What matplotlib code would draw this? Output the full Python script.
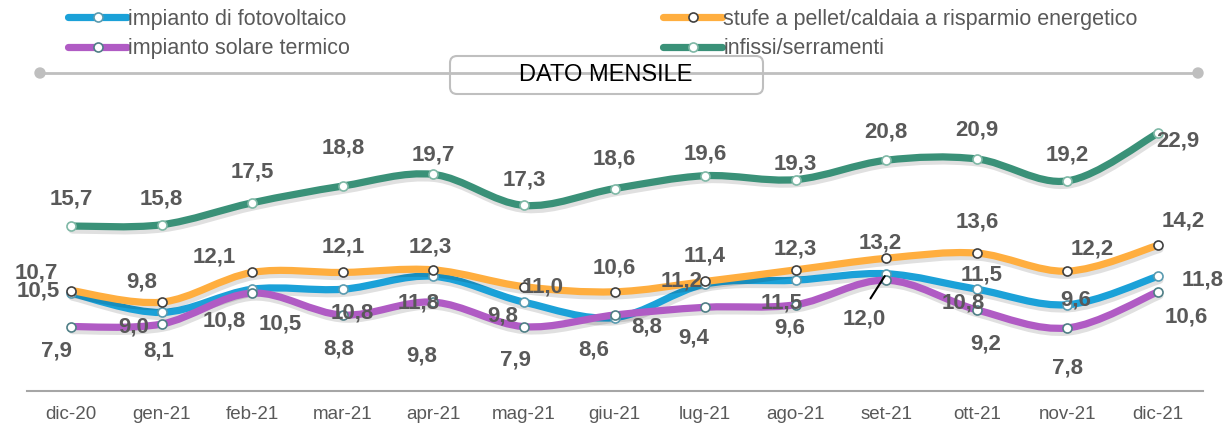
import numpy as np
import matplotlib
matplotlib.use("Agg")
import matplotlib.pyplot as plt
from matplotlib.path import Path
from matplotlib.patches import PathPatch, FancyBboxPatch, Circle
from matplotlib.lines import Line2D
import matplotlib.patheffects as pe

plt.rcParams["font.family"] = ["Liberation Sans", "DejaVu Sans"]

# data
months = ["dic-20", "gen-21", "feb-21", "mar-21", "apr-21", "mag-21", "giu-21",
          "lug-21", "ago-21", "set-21", "ott-21", "nov-21", "dic-21"]
fotovoltaico = [10.5, 9.0, 10.8, 10.8, 11.8, 9.8, 8.6, 11.2, 11.5, 12.0, 10.8, 9.6, 11.8]
stufe = [10.7, 9.8, 12.1, 12.1, 12.3, 11.0, 10.6, 11.4, 12.3, 13.2, 13.6, 12.2, 14.2]
solare = [7.9, 8.1, 10.5, 8.8, 9.8, 7.9, 8.8, 9.4, 9.6, 11.5, 9.2, 7.8, 10.6]
infissi = [15.7, 15.8, 17.5, 18.8, 19.7, 17.3, 18.6, 19.6, 19.3, 20.8, 20.9, 19.2, 22.9]

names = ["impianto di fotovoltaico", "stufe a pellet/caldaia a risparmio energetico",
         "impianto solare termico", "infissi/serramenti"]
colors = ["#1BA1D8", "#FFAE3F", "#B05BC4", "#3A9178"]
edges = ["#5A9BB0", "#404040", "#4F7F86", "#7FB8A6"]

# label offsets in pixels (dx, dy down)
off_blue = [(-33, -2), (-28, 15), (-28, 32), (9, 24), (-15, 27), (-21, 14), (-21, 32),
            (-23, -3), (-14, 23), (-22, 45), (-14, 14), (8, -5), (45, 4)]
off_orange = [(-35, -18), (-20, -20), (-38, -15), (0, -25), (-3, -23), (19, 0), (0, -24),
              (0, -25), (0, -21), (-6, -15), (0, -31), (25, -22), (25, -24)]
off_purple = [(-15, 24), (-3, 27), (28, 31), (-4, 34), (-12, 54), (-8, 33), (32, 12),
              (-11, 31), (-6, 23), (95, -5), (9, 34), (0, 40), (28, 25)]
off_green = [(0, -27), (0, -26), (0, -31), (0, -38), (0, -19), (0, -25), (0, -30),
             (0, -22), (0, -16), (0, -28), (0, -29), (0, -26), (20, 8)]


def smooth_path(xs, ys):
    # excel-like smoothed line: cubic bezier through the points
    pts = np.column_stack([xs, ys]).astype(float)
    n = len(pts)
    verts = [pts[0]]
    codes = [Path.MOVETO]
    for i in range(n - 1):
        p0 = pts[max(i - 1, 0)]
        p1 = pts[i]
        p2 = pts[i + 1]
        p3 = pts[min(i + 2, n - 1)]
        c1 = p1 + (p2 - p0) / 6.0
        c2 = p2 - (p3 - p1) / 6.0
        verts += [c1, c2, p2]
        codes += [Path.CURVE4] * 3
    return Path(verts, codes)


W, H = 1227, 423
fig = plt.figure(figsize=(W / 100, H / 100), dpi=100)
ax = fig.add_axes([27 / W, (H - 391) / H, 1176 / W, (391 - 100) / H])
ax.set_xlim(-0.486, 12.497)
ax.set_ylim(2.91, 25.47)

x = np.arange(len(months))
series = [fotovoltaico, stufe, solare, infissi]
offsets = [off_blue, off_orange, off_purple, off_green]
order = [0, 2, 1, 3]
for k in order:
    vals = series[k]
    patch = PathPatch(smooth_path(x, vals), facecolor="none", edgecolor=colors[k],
                      lw=5.2, capstyle="round", joinstyle="round", zorder=2 + k,
                      path_effects=[pe.SimpleLineShadow(offset=(1, -2.5), shadow_color="black",
                                                        alpha=0.12, linewidth=6), pe.Normal()])
    ax.add_patch(patch)
    ax.plot(x, vals, ls="none", marker="o", ms=6.5, mfc="white", mec=edges[k],
            mew=1.2, zorder=10 + k)
    for i, v in enumerate(vals):
        dx, dy = offsets[k][i]
        lbl = f"{v:.1f}".replace(".", ",")
        arrow = None
        if k == 0 and i == 9:
            arrow = dict(arrowstyle="-", color="black", lw=1.5,
                         relpos=(0.5, 1.0), shrinkA=6, shrinkB=2)
        ax.annotate(lbl, xy=(i, v), xytext=(dx, -dy), textcoords="offset pixels",
                    ha="center", va="center", fontsize=16, fontweight="bold", color="#595959",
                    zorder=20, arrowprops=arrow)

ax.set_xticks(x)
ax.set_xticklabels(months, fontsize=13.5, color="#595959")
ax.tick_params(axis="x", length=0, pad=11)
ax.set_yticks([])
for s in ["top", "left", "right"]:
    ax.spines[s].set_visible(False)
ax.spines["bottom"].set_color("#A6A6A6")
ax.spines["bottom"].set_linewidth(1.5)
ax.patch.set_alpha(0)

# header line and title box
tr = fig.dpi_scale_trans
ln_y = (H - 73) / 100
fig.add_artist(Line2D([40 / 100, 1198 / 100], [ln_y, ln_y], transform=tr, color="#BFBFBF", lw=2))
fig.add_artist(Circle((40 / 100, ln_y), 0.05, transform=tr, color="#BFBFBF"))
fig.add_artist(Circle((1198 / 100, ln_y), 0.05, transform=tr, color="#BFBFBF"))
box = FancyBboxPatch((450 / 100, (H - 94) / 100), 313 / 100, 38 / 100,
                     boxstyle="round,pad=0,rounding_size=0.07", transform=tr,
                     facecolor="white", edgecolor="#BFBFBF", lw=1.5)
fig.add_artist(box)
fig.text(606 / W, (H - 75) / H, "DATO MENSILE", ha="center", va="center", fontsize=17, color="black")

# legend
handles = [Line2D([], [], color=colors[k], lw=5.2, marker="o", ms=6.5, mfc="white",
                  mec=edges[k], mew=1.2, solid_capstyle="round")
           for k in range(4)]
leg_kw = dict(frameon=False, fontsize=15.5, handlelength=2.75, handletextpad=0.06,
              labelspacing=0.38, borderpad=0, borderaxespad=0, labelcolor="#595959",
              numpoints=1, loc="upper left")
fig.legend([handles[0], handles[2]], [names[0], names[2]],
           bbox_to_anchor=(68 / W, (H - 9) / H), **leg_kw)
fig.legend([handles[1], handles[3]], [names[1], names[3]],
           bbox_to_anchor=(663 / W, (H - 9) / H), **leg_kw)

fig.savefig("out.png", dpi=100)
